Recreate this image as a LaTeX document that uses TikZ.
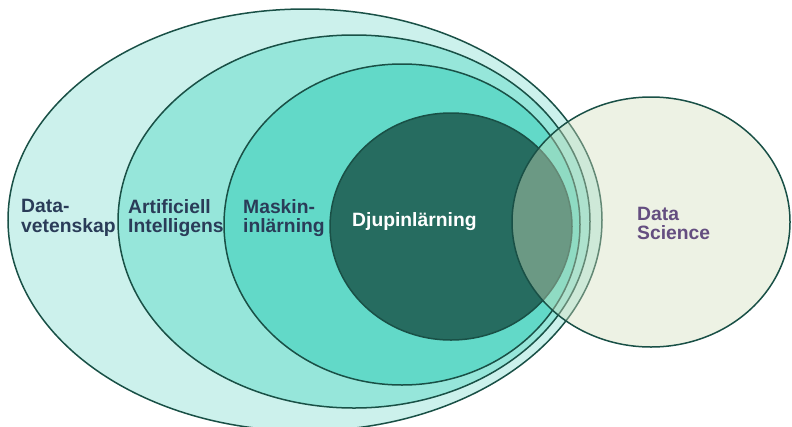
\documentclass[tikz,border=0pt]{standalone}
\usepackage{fontspec}
\setmainfont{Liberation Sans}
\usepackage{xcolor}
\definecolor{datavet}{RGB}{204,241,236}
\definecolor{intelligens}{RGB}{150,230,218}
\definecolor{maskin}{RGB}{98,217,200}
\definecolor{djup}{RGB}{38,108,96}
\definecolor{science}{RGB}{211,222,188}
\definecolor{kontur}{RGB}{25,80,70}
\definecolor{morktext}{RGB}{42,60,88}
\definecolor{lilatext}{RGB}{100,78,128}

\begin{document}
\begin{tikzpicture}[
    x=1pt,
    y=-1pt,
    ring/.style={draw=kontur, line width=1.5pt},
    rubrik/.style={anchor=west, inner sep=0pt, align=left,
        font=\fontsize{19.3}{19.8}\selectfont\bfseries}
]
\useasboundingbox (0,0) rectangle (792,426);
\clip (0,0) rectangle (792,426);

% Datavetenskap
\filldraw[ring, fill=datavet] (305,220) ellipse [x radius=297pt, y radius=211pt];

% Artificiell intelligens
\filldraw[ring, fill=intelligens] (354,221.5) ellipse [x radius=236pt, y radius=186.5pt];

% Maskininlarning
\filldraw[ring, fill=maskin] (402,224.5) ellipse [x radius=178pt, y radius=160.5pt];

% Djupinlarning
\filldraw[ring, fill=djup] (451,226.5) ellipse [x radius=121pt, y radius=113.5pt];

% Data Science ovanpa, halvgenomskinlig
\fill[science, fill opacity=0.4] (651,222) ellipse [x radius=139pt, y radius=125pt];
\draw[ring] (651,222) ellipse [x radius=139pt, y radius=125pt];

% Etiketter
\node[rubrik, text=morktext] (dvText) at (21,218) {Data-\\vetenskap};
\node[rubrik, text=morktext] (aiText) at (128,218) {Artificiell\\Intelligens};
\node[rubrik, text=morktext] (mlText) at (243,218) {Maskin-\\inlärning};
\node[rubrik, text=white] (djText) at (352,222) {Djupinlärning};
\node[rubrik, text=lilatext] (dsText) at (637,223.5) {Data\\Science};

\end{tikzpicture}
\end{document}
